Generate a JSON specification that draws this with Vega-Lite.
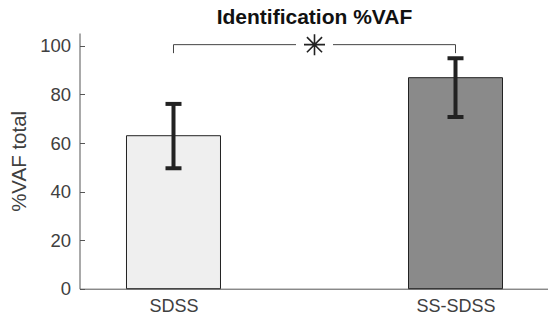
{
  "$schema": "https://vega.github.io/schema/vega-lite/v6.json",
  "autosize": "none",
  "padding": {"left": 79.5, "top": 33, "right": 0, "bottom": 33.3},
  "width": 470,
  "height": 255.7,
  "background": "white",
  "title": {"text": "Identification %VAF", "fontSize": 21, "fontWeight": "bold", "font": "Liberation Sans", "color": "#111", "anchor": "middle", "offset": 2.5},
  "config": {"view": {"stroke": null}, "font": "Liberation Sans"},
  "datasets": {
    "bars": [
      {"group": "SDSS", "idx": 1, "mean": 63.0, "lo": 49.6, "hi": 76.1},
      {"group": "SS-SDSS", "idx": 2, "mean": 86.9, "lo": 70.7, "hi": 94.9}
    ],
    "bracket": [
      {"idx": 1, "ylo": 97, "yhi": 100.5},
      {"idx": 2, "ylo": 97, "yhi": 100.5}
    ],
    "span": [{"from": 1, "to": 2, "y": 100.5}],
    "star": [{"idx": 1.5, "y": 100.5}]
  },
  "layer": [
    {
      "data": {"name": "bars"},
      "mark": {"type": "bar", "size": 94, "stroke": "#222", "strokeWidth": 1},
      "encoding": {
        "x": {"field": "idx", "type": "quantitative", "scale": {"domain": [0.6667, 2.3333], "nice": false, "zero": false, "padding": 0},
          "axis": {"values": [1, 2], "labelExpr": "datum.value == 1 ? 'SDSS' : (datum.value == 2 ? 'SS-SDSS' : '')", "ticks": false, "grid": false, "title": null, "domainColor": "#555", "domainWidth": 1, "labelFontSize": 18, "labelColor": "#404040", "labelPadding": 9}},
        "y": {"field": "mean", "type": "quantitative", "scale": {"domain": [0, 105.3], "nice": false, "padding": 0},
          "axis": {"values": [0, 20, 40, 60, 80, 100], "grid": false, "tickSize": -5, "tickColor": "#555", "domainColor": "#555", "labelFontSize": 18.5, "labelColor": "#404040", "labelPadding": 14, "title": "%VAF total", "titleFontSize": 20.5, "titleFontWeight": "normal", "titleColor": "#404040", "titlePadding": 10}},
        "color": {"field": "group", "type": "nominal", "scale": {"domain": ["SDSS", "SS-SDSS"], "range": ["#efefef", "#8a8a8a"]}, "legend": null}
      }
    },
    {
      "data": {"name": "bars"},
      "mark": {"type": "rule", "strokeWidth": 4, "color": "#222"},
      "encoding": {
        "x": {"field": "idx", "type": "quantitative"},
        "y": {"field": "lo", "type": "quantitative"},
        "y2": {"field": "hi"}
      }
    },
    {
      "data": {"name": "bars"},
      "mark": {"type": "tick", "orient": "horizontal", "size": 16, "thickness": 4, "color": "#222", "opacity": 1},
      "encoding": {
        "x": {"field": "idx", "type": "quantitative"},
        "y": {"field": "lo", "type": "quantitative"}
      }
    },
    {
      "data": {"name": "bars"},
      "mark": {"type": "tick", "orient": "horizontal", "size": 16, "thickness": 4, "color": "#222", "opacity": 1},
      "encoding": {
        "x": {"field": "idx", "type": "quantitative"},
        "y": {"field": "hi", "type": "quantitative"}
      }
    },
    {
      "data": {"name": "bracket"},
      "mark": {"type": "rule", "strokeWidth": 1, "color": "#444"},
      "encoding": {
        "x": {"field": "idx", "type": "quantitative"},
        "y": {"field": "ylo", "type": "quantitative"},
        "y2": {"field": "yhi"}
      }
    },
    {
      "data": {"name": "span"},
      "mark": {"type": "rule", "strokeWidth": 1, "color": "#444"},
      "encoding": {
        "x": {"field": "from", "type": "quantitative"},
        "x2": {"field": "to"},
        "y": {"field": "y", "type": "quantitative"}
      }
    },
    {
      "data": {"name": "star"},
      "mark": {"type": "point", "shape": "M-1,-0.15L1,-0.15L1,0.15L-1,0.15Z", "size": 1369, "filled": true, "fill": "white", "strokeWidth": 0, "opacity": 1},
      "encoding": {
        "x": {"field": "idx", "type": "quantitative"},
        "y": {"field": "y", "type": "quantitative"}
      }
    },
    {
      "data": {"name": "star"},
      "mark": {"type": "point", "shape": "M0,-1L0,1M-1,0L1,0M-0.72,-0.72L0.72,0.72M-0.72,0.72L0.72,-0.72", "size": 441, "filled": false, "stroke": "#222", "strokeWidth": 1.6, "opacity": 1},
      "encoding": {
        "x": {"field": "idx", "type": "quantitative"},
        "y": {"field": "y", "type": "quantitative"}
      }
    }
  ]
}
